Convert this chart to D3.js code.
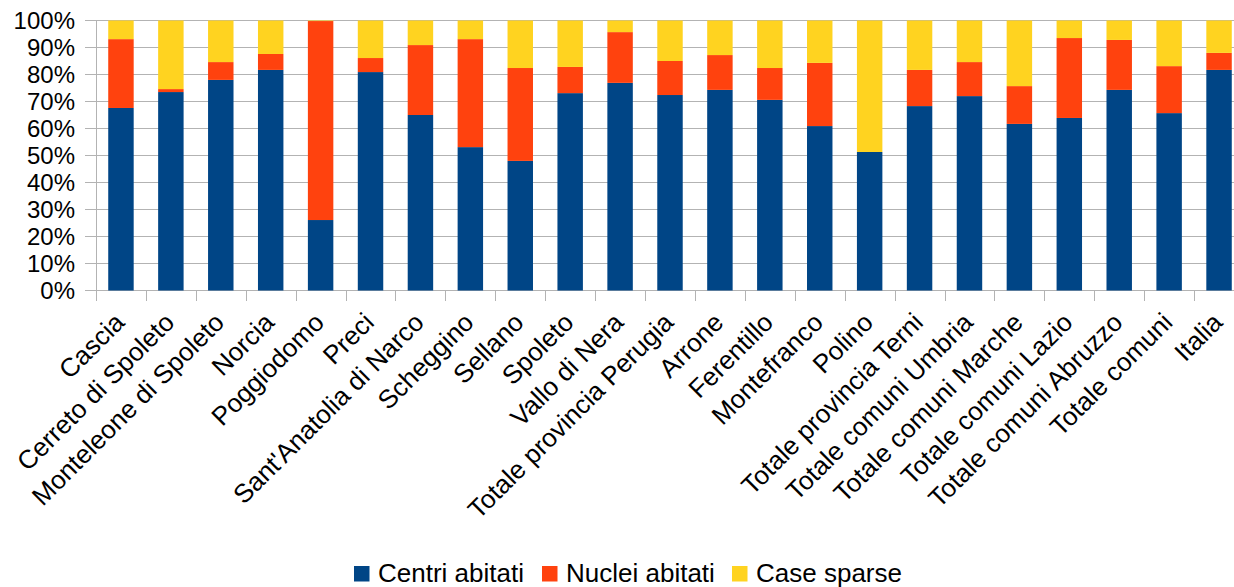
<!DOCTYPE html>
<html><head><meta charset="utf-8">
<script src="https://cdn.jsdelivr.net/npm/d3@7"></script>
<style>body{margin:0;background:#fff;overflow:hidden} text{font-family:"Liberation Sans",Arial,sans-serif;fill:#000}</style>
</head><body><svg id="c" width="1234" height="587"></svg>
<script>
const categories = ["Cascia","Cerreto di Spoleto","Monteleone di Spoleto","Norcia","Poggiodomo","Preci","Sant'Anatolia di Narco","Scheggino","Sellano","Spoleto","Vallo di Nera","Totale provincia Perugia","Arrone","Ferentillo","Montefranco","Polino","Totale provincia Terni","Totale comuni Umbria","Totale comuni Marche","Totale comuni Lazio","Totale comuni Abruzzo","Totale comuni","Italia"];
const centriAbitati = [67.6,73.5,78.0,81.7,26.1,80.9,65.0,53.1,48.0,73.1,76.9,72.4,74.3,70.6,60.9,51.3,68.3,72.0,61.7,63.9,74.3,65.7,81.7];
const nucleiAbitati = [25.5,1.1,6.6,5.9,73.7,5.2,25.9,40.0,34.4,9.7,18.8,12.6,12.9,11.8,23.4,0.0,13.4,12.6,14.0,29.6,18.5,17.4,6.3];
const caseSparse = [6.9,25.4,15.4,12.4,0.2,13.9,9.1,6.9,17.6,17.2,4.3,15.0,12.8,17.6,15.7,48.7,18.3,15.4,24.3,6.5,7.2,16.9,12.0];
const seriesNames = ["Centri abitati","Nuclei abitati","Case sparse"];
const seriesColors = ["#004586","#ff420e","#ffd320"];
const yTicks = [0,10,20,30,40,50,60,70,80,90,100];

const svg = d3.select("#c");
const rows = categories.map((c,i)=>({cat:c, s0:centriAbitati[i], s1:nucleiAbitati[i], s2:caseSparse[i]}));
const stack = d3.stack().keys(["s0","s1","s2"]).offset(d3.stackOffsetExpand)(rows);

const x = d3.scaleBand().domain(categories).range([96,1244]).paddingInner(0.49).paddingOuter(0.245);
const y = d3.scaleLinear().domain([0,1]).range([290.5,20.5]);
const grid = "#b3b3b3";

// gridlines
svg.append("g").selectAll("line").data(yTicks).join("line")
  .attr("x1",85).attr("x2",1244)
  .attr("y1",d=>y(d/100)).attr("y2",d=>y(d/100))
  .attr("stroke",grid).attr("stroke-width",1);

// y axis line
svg.append("line").attr("x1",96.5).attr("x2",96.5).attr("y1",20.5).attr("y2",301).attr("stroke",grid);

// x ticks at band boundaries
const step = x.step();
const bounds = d3.range(categories.length+1).map(k=>96+k*step);
svg.append("g").selectAll("line").data(bounds).join("line")
  .attr("x1",d=>Math.round(d)+0.5).attr("x2",d=>Math.round(d)+0.5)
  .attr("y1",290.5).attr("y2",301).attr("stroke",grid);

// bars
svg.append("g").selectAll("g").data(stack).join("g")
  .attr("fill",(d,i)=>seriesColors[i])
  .selectAll("rect").data(d=>d).join("rect")
  .attr("x",d=>x(d.data.cat)).attr("width",x.bandwidth())
  .attr("y",d=>y(d[1])).attr("height",d=>Math.max(0,y(d[0])-y(d[1])));

// y labels
svg.append("g").selectAll("text").data(yTicks).join("text")
  .attr("x",75).attr("y",d=>y(d/100)+8.5)
  .attr("text-anchor","end").attr("font-size",24)
  .text(d=>d+"%");

// x labels
svg.append("g").selectAll("text").data(categories).join("text")
  .attr("text-anchor","end").attr("font-size",26)
  .attr("transform",d=>`translate(${x(d)+x.bandwidth()/2+5},${324}) rotate(-45)`)
  .text(d=>d);

// legend
const legX = [354,542,732];
const lg = svg.append("g").selectAll("g").data(seriesNames).join("g")
  .attr("transform",(d,i)=>`translate(${legX[i]},0)`);
lg.append("rect").attr("x",0).attr("y",566).attr("width",15.5).attr("height",15.5).attr("fill",(d,i)=>seriesColors[i]);
lg.append("text").attr("x",24).attr("y",582).attr("font-size",26).text(d=>d);
</script></body></html>
